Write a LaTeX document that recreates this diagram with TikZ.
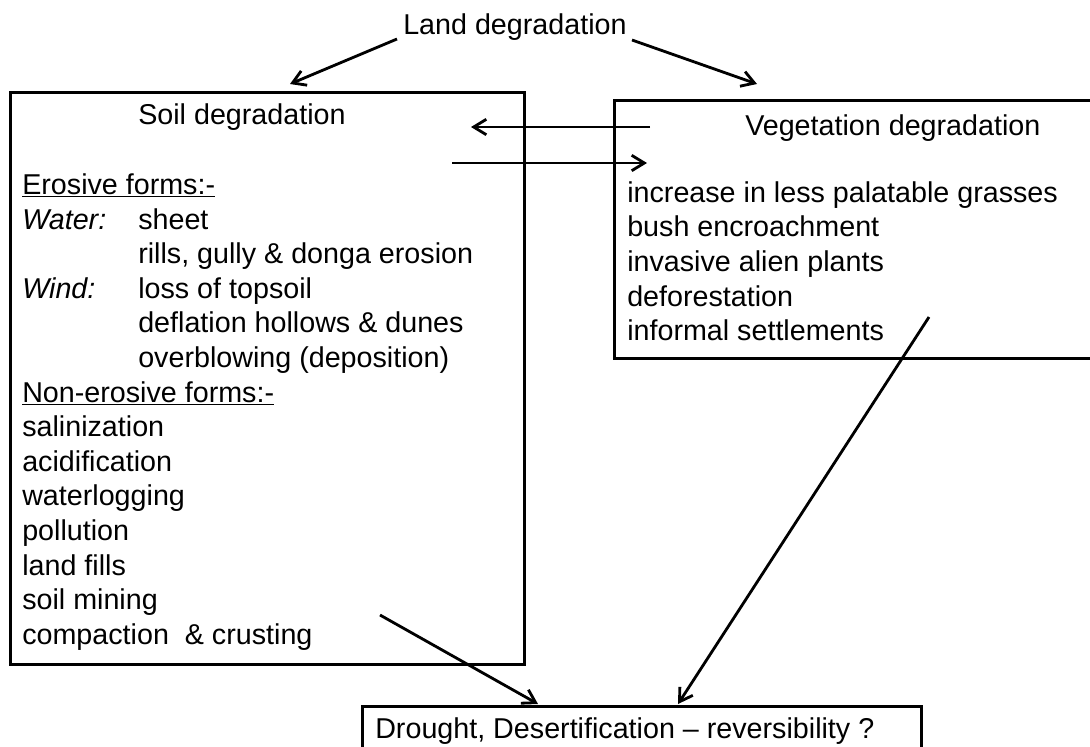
\documentclass[tikz,border=0pt]{standalone}
\usepackage{fontspec}
\setmainfont{Liberation Sans}
\usetikzlibrary{arrows.meta}

\begin{document}
\begin{tikzpicture}[x=0.025cm, y=-0.025cm,
  txt/.style={anchor=base west, inner sep=0pt, font=\fontsize{20.4}{24.7}\selectfont},
  box/.style={draw, line width=2.2pt, anchor=north west, inner sep=0pt},
  link/.style={line width=2pt, -{Straight Barb[length=9pt,width=11pt,line width=2pt]}}]
\clip (0,0) rectangle (1090,746);
% boxes
\node[box, minimum width=514*0.025cm, minimum height=572*0.025cm] (soil) at (9,91) {};
\node[box, minimum width=490*0.025cm, minimum height=258*0.025cm] (veg) at (613,99) {};
\node[box, minimum width=559*0.025cm, minimum height=80*0.025cm] (dry) at (361,705) {};
% texts
\node[txt] (land) at (403,34) {Land degradation};
\node[txt] (soiltitle) at (138,124) {Soil degradation};
\node[txt] (eros) at (22,194.5) {\underline{Erosive forms:-}};
\node[txt] (water) at (22,229.1) {\textit{Water:}};
\node[txt] (sheet) at (138,229.1) {sheet};
\node[txt] (rills) at (138,263.7) {rills, gully \& donga erosion};
\node[txt] (wind) at (22,298.3) {\textit{Wind:}};
\node[txt] (topsoil) at (138,298.3) {loss of topsoil};
\node[txt] (hollows) at (138,332.9) {deflation hollows \& dunes};
\node[txt] (overblow) at (138,367.5) {overblowing (deposition)};
\node[txt] (noneros) at (22,402.1) {\underline{Non-erosive forms:-}};
\foreach \f [count=\i] in {salinization, acidification, waterlogging, pollution, land fills, soil mining, compaction~~\& crusting}
  \node[txt] (nf\i) at (22,402.1+34.6*\i) {\f};
\node[txt] (vegtitle) at (745,135) {Vegetation degradation};
\foreach \v [count=\i] in {increase in less palatable grasses, bush encroachment, invasive alien plants, deforestation, informal settlements}
  \node[txt] (vf\i) at (627,167.7+34.6*\i) {\v};
\node[txt] (drought) at (375,738) {Drought, Desertification -- reversibility ?};
% arrow ends
\coordinate (l1) at (397,39);  \coordinate (l2) at (290,84);
\coordinate (r1) at (632,40);  \coordinate (r2) at (757,84);
\coordinate (t1) at (650,127); \coordinate (t2) at (471,127);
\coordinate (b1) at (452,163); \coordinate (b2) at (647,163);
\coordinate (s1) at (380,615); \coordinate (s2) at (538,704);
\coordinate (v1) at (929,317); \coordinate (v2) at (678,704);
\draw[link] (l1) -- (l2);
\draw[link] (r1) -- (r2);
\draw[link] (t1) -- (t2);
\draw[link] (b1) -- (b2);
\draw[link] (s1) -- (s2);
\draw[link] (v1) -- (v2);
\end{tikzpicture}
\end{document}
